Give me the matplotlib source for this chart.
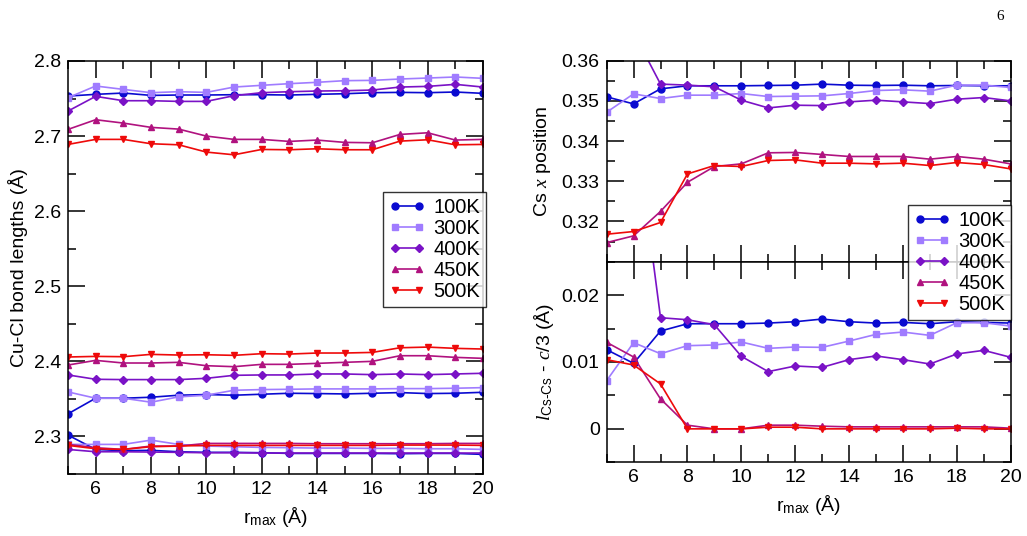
import matplotlib
matplotlib.use("Agg")
import matplotlib.pyplot as plt
from matplotlib.ticker import MultipleLocator

plt.rcParams['font.family'] = ['Liberation Sans', 'DejaVu Sans']
plt.rcParams['mathtext.fontset'] = 'custom'
plt.rcParams['mathtext.rm'] = 'Liberation Sans'
plt.rcParams['mathtext.it'] = 'Liberation Serif:italic'
plt.rcParams['mathtext.sf'] = 'Liberation Sans'

r_max = [5, 6, 7, 8, 9, 10, 11, 12, 13, 14, 15, 16, 17, 18, 19, 20]
temps = ['100K', '300K', '400K', '450K', '500K']

# Cu-Cl bond lengths, three bonds per temperature (long, middle, short)
long_100K = [2.7533, 2.7556, 2.7573, 2.7542, 2.7547, 2.7547, 2.7551, 2.7551, 2.7547, 2.7556, 2.7564, 2.7578, 2.7582, 2.7578, 2.7587, 2.7569]
long_300K = [2.7511, 2.7667, 2.7622, 2.7578, 2.7591, 2.7582, 2.7653, 2.7676, 2.7698, 2.7716, 2.7738, 2.7742, 2.7760, 2.7773, 2.7787, 2.7769]
long_400K = [2.7333, 2.7529, 2.7471, 2.7471, 2.7462, 2.7462, 2.7538, 2.7578, 2.7591, 2.7600, 2.7604, 2.7613, 2.7653, 2.7662, 2.7689, 2.7653]
long_450K = [2.7089, 2.7218, 2.7173, 2.7116, 2.7093, 2.7000, 2.6956, 2.6956, 2.6929, 2.6947, 2.6916, 2.6911, 2.7022, 2.7044, 2.6947, 2.6956]
long_500K = [2.6889, 2.6956, 2.6956, 2.6898, 2.6884, 2.6787, 2.6751, 2.6822, 2.6818, 2.6831, 2.6818, 2.6818, 2.6933, 2.6951, 2.6884, 2.6889]

mid_100K = [2.3301, 2.3509, 2.3509, 2.3522, 2.3549, 2.3558, 2.3549, 2.3562, 2.3575, 2.3571, 2.3566, 2.3575, 2.3584, 2.3571, 2.3575, 2.3588]
mid_300K = [2.3593, 2.3509, 2.3509, 2.3456, 2.3527, 2.3549, 2.3615, 2.3624, 2.3628, 2.3633, 2.3633, 2.3633, 2.3637, 2.3637, 2.3642, 2.3650]
mid_400K = [2.3819, 2.3761, 2.3757, 2.3757, 2.3757, 2.3774, 2.3814, 2.3819, 2.3819, 2.3832, 2.3832, 2.3823, 2.3832, 2.3823, 2.3832, 2.3841]
mid_450K = [2.3951, 2.4013, 2.3978, 2.3978, 2.3987, 2.3942, 2.3929, 2.3960, 2.3960, 2.3973, 2.3987, 2.4000, 2.4075, 2.4075, 2.4053, 2.4040]
mid_500K = [2.4058, 2.4066, 2.4062, 2.4093, 2.4084, 2.4088, 2.4080, 2.4102, 2.4097, 2.4111, 2.4111, 2.4119, 2.4181, 2.4190, 2.4173, 2.4164]

short_100K = [2.3018, 2.2827, 2.2810, 2.2815, 2.2796, 2.2788, 2.2788, 2.2783, 2.2774, 2.2774, 2.2774, 2.2774, 2.2770, 2.2774, 2.2774, 2.2761]
short_300K = [2.2894, 2.2894, 2.2894, 2.2951, 2.2894, 2.2872, 2.2863, 2.2854, 2.2850, 2.2845, 2.2845, 2.2841, 2.2841, 2.2836, 2.2836, 2.2827]
short_400K = [2.2827, 2.2796, 2.2796, 2.2792, 2.2788, 2.2783, 2.2783, 2.2779, 2.2779, 2.2779, 2.2779, 2.2779, 2.2779, 2.2779, 2.2779, 2.2779]
short_450K = [2.2894, 2.2850, 2.2827, 2.2872, 2.2872, 2.2907, 2.2907, 2.2907, 2.2907, 2.2903, 2.2903, 2.2903, 2.2903, 2.2903, 2.2907, 2.2907]
short_500K = [2.2881, 2.2836, 2.2827, 2.2863, 2.2872, 2.2881, 2.2881, 2.2881, 2.2881, 2.2881, 2.2881, 2.2881, 2.2885, 2.2885, 2.2885, 2.2881]

# Cs x position
csx_100K = [0.3510, 0.34925, 0.3530, 0.35375, 0.35375, 0.35375, 0.35383, 0.3539, 0.35417, 0.3539, 0.35383, 0.3539, 0.35375, 0.35383, 0.35375, 0.35375]
csx_300K = [0.34717, 0.35175, 0.35058, 0.35142, 0.35142, 0.35183, 0.35108, 0.35117, 0.35125, 0.35183, 0.35258, 0.35275, 0.35242, 0.35392, 0.35392, 0.35333]
csx_400K = [0.3800, 0.3670, 0.35417, 0.35392, 0.3535, 0.35017, 0.34825, 0.34892, 0.34883, 0.34975, 0.35017, 0.34975, 0.34933, 0.35042, 0.35083, 0.3500]
csx_450K = [0.31475, 0.31642, 0.3225, 0.32975, 0.33367, 0.33433, 0.33708, 0.33717, 0.33667, 0.33617, 0.33617, 0.33617, 0.3355, 0.33617, 0.3355, 0.33433]
csx_500K = [0.31683, 0.3175, 0.31975, 0.33183, 0.33392, 0.33367, 0.33517, 0.33533, 0.3345, 0.3345, 0.33433, 0.3345, 0.33392, 0.33467, 0.33417, 0.33308]

# l_Cs-Cs - c/3
dl_100K = [0.01184, 0.0098, 0.01463, 0.01572, 0.01572, 0.01572, 0.01582, 0.01602, 0.01642, 0.01602, 0.01582, 0.01592, 0.01572, 0.01602, 0.01592, 0.01582]
dl_300K = [0.00721, 0.01289, 0.01124, 0.01244, 0.01254, 0.01299, 0.01204, 0.01224, 0.01219, 0.01313, 0.01413, 0.01448, 0.01398, 0.01587, 0.01587, 0.01537]
dl_400K = [0.0600, 0.0476, 0.01662, 0.01632, 0.01557, 0.01085, 0.00856, 0.0094, 0.0092, 0.01035, 0.0109, 0.01035, 0.0097, 0.0112, 0.01174, 0.0107]
dl_450K = [0.01294, 0.01075, 0.00448, 0.00055, 0.0, 0.0, 0.00055, 0.00055, 0.0004, 0.0003, 0.0003, 0.0003, 0.0003, 0.0003, 0.0003, 0.0001]
dl_500K = [0.01035, 0.00955, 0.00672, 0.0, 0.0, 0.0, 0.00025, 0.00025, 0.0, 0.0, 0.0, 0.0, 0.0, 0.0001, 0.0, 0.0]

colors = ['#0a0ad0', '#a07cff', '#7a12c6', '#b0127f', '#ee0a0a']
markers = ['o', 's', 'D', '^', 'v']
msizes = [5, 4.5, 3.6, 5, 5]

TICK_FS = 14
LABEL_FS = 14
LEG_FS = 14.5


def style(ax, ymaj, ymin):
    ax.set_xlim(5, 20)
    ax.xaxis.set_major_locator(MultipleLocator(2))
    ax.xaxis.set_minor_locator(MultipleLocator(1))
    ax.yaxis.set_major_locator(MultipleLocator(ymaj))
    ax.yaxis.set_minor_locator(MultipleLocator(ymin))
    ax.tick_params(which='both', direction='in', top=True, right=True,
                   labelsize=TICK_FS, width=1.1, pad=5)
    ax.tick_params(which='major', length=12)
    ax.tick_params(which='minor', length=6)
    for s in ax.spines.values():
        s.set_linewidth(1.1)


def draw(ax, ys, label):
    for y, c, m, ms, t in zip(ys, colors, markers, msizes, temps):
        ax.plot(r_max, y, color=c, marker=m, markersize=ms, lw=1.2,
                label=t if label else None)


def add_legend(target, handles, labels, anchor):
    leg = target.legend(handles, labels, loc='upper right', bbox_to_anchor=anchor,
                        numpoints=2, fontsize=LEG_FS, frameon=True, fancybox=False,
                        edgecolor='black', handlelength=1.8, borderpad=0.3,
                        labelspacing=0.1, handletextpad=0.4, borderaxespad=0)
    leg.get_frame().set_linewidth(1.0)
    leg.set_zorder(10)
    return leg


fig = plt.figure(figsize=(10.27, 5.36), dpi=100)

ax1 = fig.add_axes([0.0662, 0.1157, 0.4041, 0.7705])
draw(ax1, [long_100K, long_300K, long_400K, long_450K, long_500K], True)
draw(ax1, [mid_100K, mid_300K, mid_400K, mid_450K, mid_500K], False)
draw(ax1, [short_100K, short_300K, short_400K, short_450K, short_500K], False)
ax1.set_ylim(2.25, 2.8)
style(ax1, 0.1, 0.05)
ax1.set_xticks(range(6, 21, 2))
ax1.set_ylabel('Cu-Cl bond lengths (Å)', fontsize=LABEL_FS, labelpad=4)
ax1.set_xlabel(r'r$_{\mathrm{max}}$ (Å)', fontsize=LABEL_FS, labelpad=5)
h1, l1 = ax1.get_legend_handles_labels()
add_legend(fig, h1, l1, (486 / 1027, 1 - 192 / 536))

ax2 = fig.add_axes([0.5907, 0.5118, 0.3934, 0.375])
draw(ax2, [csx_100K, csx_300K, csx_400K, csx_450K, csx_500K], True)
ax2.set_ylim(0.31, 0.36)
style(ax2, 0.01, 0.005)
ax2.set_yticks([0.32, 0.33, 0.34, 0.35, 0.36])
ax2.set_xticklabels([])
ax2.set_ylabel(r'Cs $x$ position', fontsize=LABEL_FS, labelpad=6)

ax3 = fig.add_axes([0.5907, 0.1375, 0.3934, 0.3743])
draw(ax3, [dl_100K, dl_300K, dl_400K, dl_450K, dl_500K], False)
ax3.set_ylim(-0.005, 0.025)
style(ax3, 0.01, 0.005)
ax3.set_yticks([0, 0.01, 0.02])
ax3.set_yticklabels(['0', '0.01', '0.02'])
ax3.set_xticks(range(6, 21, 2))
ax3.set_ylabel(r'$l_{\mathrm{Cs}\text{-}\mathrm{Cs}}$ - $c$/3 (Å)', fontsize=LABEL_FS, labelpad=4)
ax3.set_xlabel(r'r$_{\mathrm{max}}$ (Å)', fontsize=LABEL_FS, labelpad=5)

h2, l2 = ax2.get_legend_handles_labels()
add_legend(fig, h2, l2, (1011 / 1027, 1 - 205 / 536))

fig.text(1000 / 1027, 1 - 16 / 536, '6', family=['Liberation Serif', 'DejaVu Serif'],
         fontsize=11, ha='center', va='center')

fig.savefig('out.png', dpi=100)
